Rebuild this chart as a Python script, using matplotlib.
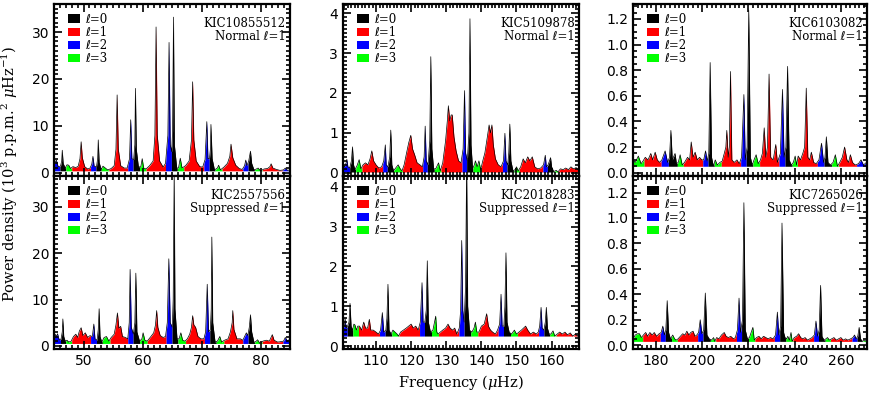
import numpy as np
import matplotlib
matplotlib.use("Agg")
import matplotlib.pyplot as plt
from matplotlib.ticker import MultipleLocator, FormatStrFormatter
from matplotlib.patches import Patch

# ---------------- DATA ----------------
# Panel A : KIC10855512, normal l=1
a_freq = [45.0, 45.2, 45.4, 45.7, 46.1, 46.3, 46.4, 46.55, 46.9,
          47.2, 47.5, 47.8,
          48.2, 48.7, 49.1, 49.4, 49.6, 49.8, 50.2, 50.7, 51.1,
          51.4, 51.6, 51.8, 52.2, 52.4, 52.5, 52.65, 53.0,
          53.3, 53.6, 54.1,
          54.7, 55.2, 55.5, 55.7, 55.9, 56.3, 56.9, 57.4,
          57.8, 58.0, 58.2, 58.5, 58.7, 58.8, 58.95, 59.3,
          59.7, 59.95, 60.2, 60.6,
          61.2, 61.8, 62.1, 62.3, 62.5, 62.9, 63.5,
          63.9, 64.3, 64.5, 64.7, 64.95, 65.1, 65.25, 65.4, 65.8,
          66.1, 66.4, 66.7,
          67.3, 67.9, 68.3, 68.5, 68.7, 69.1, 69.7, 70.2,
          70.6, 70.9, 71.1, 71.35, 71.5, 71.6, 71.8, 72.2,
          72.7, 72.9, 73.2,
          73.8, 74.4, 74.8, 75.0, 75.3, 75.8, 76.4, 76.9,
          77.3, 77.5, 77.7, 78.0, 78.3, 78.5, 78.9,
          79.3, 79.6, 80.0,
          80.6, 81.2, 81.6, 81.8, 82.1, 82.7, 83.3,
          83.9, 84.2, 84.6, 85.0]
a_power = [1.8, 2.2, 2.7, 1.3, 1.4, 2.5, 4.8, 2.0, 1.0,
           1.7, 1.6, 0.9,
           1.3, 1.1, 1.4, 3.0, 6.6, 3.2, 1.3, 0.8, 1.0,
           1.8, 3.5, 1.4, 1.3, 3.0, 7.0, 2.2, 0.7,
           1.4, 1.1, 0.6,
           0.9, 1.5, 5.0, 16.6, 5.0, 1.5, 1.0, 1.0,
           3.0, 11.3, 3.0, 2.8, 6.0, 18.0, 5.0, 1.3,
           1.2, 3.0, 1.0, 0.8,
           1.5, 2.5, 8.0, 31.1, 8.0, 2.5, 1.2,
           2.0, 8.0, 27.8, 6.0, 4.5, 9.0, 33.2, 6.0, 1.0,
           1.0, 3.1, 1.0,
           1.5, 2.5, 7.0, 19.4, 7.0, 2.5, 1.3, 1.2,
           2.8, 10.9, 3.0, 3.0, 5.0, 10.3, 3.0, 0.6,
           1.0, 1.6, 0.6,
           1.2, 2.0, 3.5, 6.1, 3.2, 1.6, 0.9, 0.7,
           1.5, 2.7, 1.5, 2.5, 4.6, 2.0, 0.6,
           0.8, 1.0, 0.4,
           0.8, 0.9, 1.3, 1.9, 1.0, 0.7, 0.5,
           0.6, 1.0, 0.5, 0.6]
a_bounds = [45.0, 46.0, 47.0, 48.0, 51.2, 52.1, 53.0, 54.3, 57.5, 58.4, 59.5,
            60.6, 63.9, 64.9, 65.9, 67.0, 70.4, 71.3, 72.3, 73.5, 77.0, 77.9,
            79.0, 80.3, 83.7, 85.0]
a_degrees = [2, 0, 3, 1, 2, 0, 3, 1, 2, 0, 3, 1, 2, 0, 3, 1, 2, 0, 3, 1, 2, 0, 3, 1, 2]

# Panel B : KIC2557556, suppressed l=1
b_freq = [45.0, 45.2, 45.4, 45.6, 45.9, 46.2, 46.4, 46.5, 46.65, 46.9,
          47.2, 47.5, 47.9,
          48.3, 48.7, 49.0, 49.3, 49.6, 49.9, 50.3, 50.7, 51.1,
          51.5, 51.75, 51.95, 52.3, 52.5, 52.65, 52.8, 53.1,
          53.5, 53.9, 54.3,
          54.7, 55.2, 55.5, 55.75, 56.0, 56.3, 56.6, 57.1, 57.5,
          57.75, 57.9, 58.1, 58.45, 58.7, 58.87, 59.05, 59.5,
          59.9, 60.1, 60.4, 60.8,
          61.3, 61.9, 62.2, 62.4, 62.6, 63.0, 63.5, 63.9,
          64.2, 64.46, 64.7, 65.05, 65.2, 65.37, 65.5, 65.85,
          66.2, 66.5, 66.8, 67.2,
          67.6, 68.0, 68.3, 68.5, 68.7, 69.0, 69.4, 69.9, 70.4,
          70.7, 70.97, 71.2, 71.5, 71.65, 71.75, 71.9, 72.3,
          72.7, 73.1, 73.4,
          73.9, 74.5, 74.9, 75.2, 75.3, 75.5, 76.0, 76.6, 77.0,
          77.3, 77.6, 77.85, 78.1, 78.3, 78.5, 78.9,
          79.3, 79.5, 79.9,
          80.4, 81.0, 81.5, 82.0, 82.3, 82.9, 83.5,
          83.9, 84.2, 84.6, 85.0]
b_power = [1.5, 2.5, 2.0, 2.6, 1.2, 1.5, 3.0, 5.8, 2.0, 1.0,
           1.2, 0.8, 1.0,
           2.0, 2.5, 1.8, 3.2, 3.9, 2.2, 2.8, 1.8, 2.2,
           2.0, 4.7, 1.5, 1.2, 3.5, 8.0, 2.0, 0.8,
           1.8, 2.0, 1.0,
           1.8, 2.5, 4.5, 7.1, 3.8, 4.2, 2.0, 1.8, 1.5,
           5.0, 16.5, 4.0, 2.5, 5.0, 15.7, 3.0, 1.0,
           1.5, 2.8, 1.2, 1.0,
           1.8, 2.8, 4.5, 7.6, 4.0, 2.2, 1.8, 2.0,
           5.0, 18.8, 5.0, 4.0, 10.0, 38.0, 8.0, 1.5,
           1.5, 2.8, 1.2, 1.0,
           1.5, 2.5, 4.0, 6.5, 4.5, 4.0, 2.0, 1.5, 1.5,
           3.0, 13.3, 3.0, 3.5, 8.0, 23.5, 5.0, 0.8,
           1.0, 2.0, 0.8,
           1.2, 1.5, 3.0, 5.0, 7.6, 3.5, 1.5, 1.5, 1.2,
           2.0, 2.8, 2.2, 4.0, 6.7, 3.0, 0.7,
           1.0, 1.3, 0.5,
           1.0, 1.2, 1.0, 2.4, 1.2, 0.8, 0.9,
           1.0, 1.8, 1.0, 1.5]
b_bounds = [45.0, 46.1, 47.0, 48.0, 51.2, 52.2, 53.2, 54.5, 57.5, 58.4, 59.5,
            60.8, 64.0, 65.0, 66.0, 67.3, 70.5, 71.4, 72.5, 73.8, 77.0, 77.9,
            79.0, 80.3, 83.8, 85.0]
b_degrees = [2, 0, 3, 1, 2, 0, 3, 1, 2, 0, 3, 1, 2, 0, 3, 1, 2, 0, 3, 1, 2, 0, 3, 1, 2]

# Panel C : KIC5109878, normal l=1
c_freq = [100.6, 101.0, 101.5, 101.7, 102.0, 102.5, 103.0, 103.3, 103.6, 104.0,
          104.6, 105.2, 105.7,
          106.3, 107.0, 107.7, 108.3, 108.8, 109.3, 110.0, 110.8, 111.6,
          112.2, 112.65, 112.9, 113.4, 113.9, 114.2, 114.5, 115.0,
          115.6, 116.3, 116.9, 117.4,
          118.0, 118.7, 119.3, 119.9, 120.4, 121.0, 121.7, 122.5, 123.2,
          123.7, 124.0, 124.3, 124.8, 125.3, 125.6, 125.9, 126.4,
          127.0, 127.8, 128.3,
          129.0, 129.8, 130.3, 130.6, 131.0, 131.4, 131.7, 132.2, 132.8, 133.5, 134.2,
          134.8, 135.2, 135.5, 136.0, 136.45, 136.75, 137.05, 137.5,
          138.0, 138.3, 138.8, 139.3, 139.8,
          140.4, 141.0, 141.7, 142.2, 142.6, 143.0, 143.4, 144.0, 144.8, 145.6,
          146.3, 146.7, 147.0, 147.5, 147.8, 148.1, 148.4, 149.0,
          149.6, 150.0, 150.5,
          151.2, 151.9, 152.5, 153.2, 153.8, 154.5, 155.2, 156.0, 156.9,
          157.7, 158.2, 158.5, 159.0, 159.4, 159.7, 160.0, 160.6,
          161.0, 161.4, 161.8,
          162.5, 163.3, 164.0, 164.8, 165.5, 166.2, 167.0, 167.8]
c_power = [0.2, 0.15, 0.25, 0.34, 0.15, 0.12, 0.3, 0.65, 0.2, 0.08,
           0.18, 0.33, 0.1,
           0.2, 0.25, 0.2, 0.35, 0.55, 0.3, 0.2, 0.12, 0.15,
           0.3, 0.70, 0.2, 0.15, 0.4, 1.07, 0.2, 0.05,
           0.12, 0.2, 0.1, 0.05,
           0.2, 0.5, 0.75, 0.94, 0.6, 0.45, 0.25, 0.2, 0.15,
           0.4, 1.17, 0.3, 0.2, 0.8, 2.91, 0.6, 0.1,
           0.1, 0.25, 0.05,
           0.25, 0.8, 1.3, 1.68, 1.3, 1.45, 1.45, 0.9, 0.55, 0.3, 0.25,
           0.6, 2.06, 0.5, 0.3, 1.0, 3.86, 0.7, 0.1,
           0.2, 0.3, 0.15, 0.3, 0.08,
           0.3, 0.5, 0.9, 1.2, 1.0, 1.2, 0.7, 0.35, 0.2, 0.15,
           0.3, 0.99, 0.3, 0.2, 0.5, 1.22, 0.3, 0.05,
           0.08, 0.15, 0.05,
           0.15, 0.35, 0.25, 0.4, 0.3, 0.4, 0.15, 0.1, 0.12,
           0.2, 0.44, 0.15, 0.2, 0.3, 0.38, 0.15, 0.03,
           0.05, 0.06, 0.02,
           0.1, 0.08, 0.12, 0.08, 0.15, 0.1, 0.13, 0.05]
c_bounds = [100.6, 102.5, 104.2, 106.0, 111.9, 113.2, 115.0, 117.5, 123.3, 124.6,
            126.6, 128.5, 134.5, 135.8, 137.6, 140.0, 146.0, 147.3, 149.3, 150.8,
            157.5, 158.8, 160.5, 162.0, 167.8]
c_degrees = [2, 0, 3, 1, 2, 0, 3, 1, 2, 0, 3, 1, 2, 0, 3, 1, 2, 0, 3, 1, 2, 0, 3, 1]

# Panel D : KIC2018283, suppressed l=1
d_freq = [100.6, 101.0, 101.2, 101.5, 101.9, 102.3, 102.6, 102.9, 103.3,
          103.7, 104.0, 104.4, 104.8,
          105.3, 105.9, 106.5, 107.0, 107.6, 108.1, 108.5, 109.2, 110.0, 110.7,
          111.3, 111.8, 112.2, 112.8, 113.1, 113.4, 113.7, 114.3,
          114.8, 115.4, 116.0, 116.4,
          117.0, 117.8, 118.6, 119.3, 120.0, 120.6, 121.3, 122.0,
          122.6, 123.1, 123.4, 123.9, 124.3, 124.6, 124.9, 125.5,
          126.2, 127.0, 127.3, 127.7,
          128.3, 129.0, 129.8, 130.5, 131.1, 131.8, 132.4, 133.0,
          133.7, 134.1, 134.4, 134.7, 135.1, 135.5, 135.8, 136.1, 136.6,
          137.3, 137.9, 138.3, 138.7,
          139.3, 140.0, 140.8, 141.5, 142.0, 142.6, 143.2, 144.0, 144.6,
          145.2, 145.6, 145.9, 146.4, 146.7, 147.0, 147.3, 147.9,
          148.6, 149.4, 150.0,
          150.7, 151.4, 152.0, 152.6, 153.2, 154.0, 154.8, 155.6, 156.2,
          156.6, 157.0, 157.3, 157.8, 158.2, 158.5, 158.8, 159.3,
          159.8, 160.4, 160.9,
          161.6, 162.3, 163.0, 163.8, 164.5, 165.3, 166.0, 166.8, 167.4, 167.8]
d_power = [0.45, 0.5, 0.69, 0.45, 0.5, 0.6, 1.07, 0.5, 0.4,
           0.55, 0.53, 0.4, 0.5,
           0.5, 0.4, 0.6, 0.45, 0.45, 0.67, 0.4, 0.4, 0.35, 0.3,
           0.4, 0.84, 0.35, 0.4, 0.7, 1.55, 0.4, 0.3,
           0.4, 0.35, 0.3, 0.25,
           0.35, 0.4, 0.45, 0.5, 0.55, 0.45, 0.5, 0.4,
           0.6, 1.59, 0.6, 0.6, 0.9, 2.14, 0.6, 0.35,
           0.4, 0.75, 0.35, 0.3,
           0.35, 0.4, 0.45, 0.55, 0.45, 0.4, 0.45, 0.3,
           0.45, 0.9, 2.65, 0.9, 0.6, 1.5, 4.6, 1.0, 0.4,
           0.35, 0.45, 0.6, 0.35,
           0.35, 0.5, 0.55, 0.81, 0.5, 0.4, 0.35, 0.3, 0.4,
           0.55, 1.30, 0.5, 0.5, 1.0, 2.34, 0.6, 0.35,
           0.3, 0.4, 0.3,
           0.35, 0.4, 0.45, 0.5, 0.4, 0.3, 0.35, 0.3, 0.35,
           0.5, 0.97, 0.45, 0.4, 0.6, 0.97, 0.45, 0.3,
           0.3, 0.38, 0.25,
           0.3, 0.35, 0.3, 0.35, 0.28, 0.33, 0.25, 0.3, 0.25, 0.3]
d_bounds = [100.6, 101.8, 103.4, 105.0, 111.0, 112.6, 114.5, 116.5, 122.4, 123.8,
            125.8, 127.8, 133.6, 135.1, 137.0, 139.0, 144.8, 146.3, 148.3, 150.3,
            156.3, 157.8, 159.5, 161.3, 167.3, 167.8]
d_degrees = [2, 0, 3, 1, 2, 0, 3, 1, 2, 0, 3, 1, 2, 0, 3, 1, 2, 0, 3, 1, 2, 0, 3, 1, 2]

# Panel E : KIC6103082, normal l=1
e_freq = [170.0, 171.0, 172.3, 173.5, 174.3,
          175.3, 176.5, 177.7, 178.5, 179.6, 180.5, 181.5,
          182.5, 183.9, 185.0, 185.8, 186.4, 187.0, 188.2, 188.8,
          189.6, 190.4, 191.3,
          192.3, 193.6, 194.5, 195.2, 196.0, 196.9, 197.8, 198.8, 199.8,
          200.6, 201.4, 202.1, 202.8, 203.4, 204.0, 204.8,
          205.6, 206.5, 207.6,
          208.6, 209.5, 210.2, 210.6, 211.2, 211.7, 212.2, 212.8, 213.8, 215.0, 216.0,
          217.0, 218.0, 218.6, 219.4, 220.1, 220.8, 221.6,
          222.4, 223.3, 224.2,
          225.2, 226.0, 226.8, 227.5, 228.2, 228.9, 229.6, 230.7, 231.8, 232.5,
          233.8, 234.7, 235.4, 236.2, 236.9, 237.6, 238.5,
          239.4, 240.2, 240.8,
          241.5, 242.5, 243.5, 244.3, 245.0, 245.7, 246.5, 247.2, 248.2, 249.3,
          250.5, 251.6, 252.5, 253.1, 253.7, 254.4, 255.5,
          256.6, 257.6, 258.5,
          259.5, 260.6, 261.6, 262.6, 263.3, 264.1, 265.0, 266.2,
          267.6, 268.7, 269.8, 271.0]
e_power = [0.1, 0.08, 0.13, 0.07, 0.09,
           0.12, 0.1, 0.15, 0.1, 0.16, 0.1, 0.08,
           0.1, 0.17, 0.08, 0.12, 0.33, 0.1, 0.15, 0.07,
           0.08, 0.14, 0.06,
           0.08, 0.12, 0.1, 0.24, 0.12, 0.16, 0.1, 0.12, 0.1,
           0.1, 0.17, 0.09, 0.15, 0.86, 0.12, 0.05,
           0.1, 0.06, 0.08,
           0.09, 0.15, 0.2, 0.33, 0.12, 0.2, 0.79, 0.1, 0.08, 0.1, 0.07,
           0.12, 0.61, 0.1, 0.2, 1.27, 0.12, 0.06,
           0.1, 0.14, 0.07,
           0.1, 0.15, 0.35, 0.12, 0.2, 0.77, 0.12, 0.1, 0.22, 0.08,
           0.15, 0.65, 0.12, 0.2, 0.83, 0.1, 0.06,
           0.08, 0.13, 0.06,
           0.13, 0.1, 0.15, 0.2, 0.66, 0.12, 0.1, 0.16, 0.08, 0.07,
           0.1, 0.23, 0.08, 0.12, 0.28, 0.08, 0.06,
           0.08, 0.14, 0.05,
           0.08, 0.12, 0.2, 0.1, 0.08, 0.14, 0.08, 0.06,
           0.07, 0.1, 0.06, 0.08]
e_bounds = [170.0, 174.8, 182.2, 185.3, 189.2, 191.8, 200.2, 202.5, 205.2, 208.2,
            216.6, 219.0, 221.9, 224.8, 233.2, 235.8, 238.9, 241.2, 249.8, 252.7,
            256.0, 259.0, 266.8, 271.0]
e_degrees = [3, 1, 2, 0, 3, 1, 2, 0, 3, 1, 2, 0, 3, 1, 2, 0, 3, 1, 2, 0, 3, 1, 2]

# Panel F : KIC7265026, suppressed l=1
f_freq = [170.0, 171.0, 171.9, 172.8, 173.6,
          174.5, 175.5, 176.3, 177.3, 178.3, 179.2, 180.2, 181.3,
          182.2, 182.9, 183.6, 184.2, 184.8, 185.4, 186.2,
          187.2, 188.0, 188.7,
          189.5, 190.5, 191.5, 192.5, 193.3, 194.2, 195.0, 196.0, 196.8, 197.6,
          198.4, 199.1, 199.8, 200.6, 201.3, 202.0, 203.0,
          204.0, 204.9, 205.4,
          206.2, 207.2, 208.3, 209.5, 210.3, 211.3, 212.3, 213.5, 214.3,
          215.2, 215.9, 216.5, 217.4, 218.0, 218.6, 219.5,
          220.4, 221.9, 222.5,
          223.5, 224.5, 225.5, 226.5, 227.5, 228.5, 229.5, 230.6,
          231.7, 232.5, 233.1, 233.9, 234.5, 235.2, 235.8,
          236.5, 237.0, 237.7, 238.4, 238.9,
          239.8, 240.8, 241.7, 242.6, 243.5, 244.5, 245.5, 246.5, 247.5,
          248.5, 249.2, 249.9, 250.6, 251.2, 251.8, 252.7,
          253.5, 254.2, 255.0,
          256.0, 257.0, 258.0, 259.0, 260.0, 261.0, 262.0, 263.0, 264.2,
          265.2, 265.9, 266.6, 267.3, 267.9, 268.5, 269.3, 270.2, 271.0]
f_power = [0.05, 0.08, 0.09, 0.09, 0.06,
           0.08, 0.1, 0.07, 0.1, 0.08, 0.1, 0.07, 0.09,
           0.1, 0.15, 0.08, 0.12, 0.35, 0.1, 0.05,
           0.08, 0.05, 0.04,
           0.05, 0.07, 0.09, 0.08, 0.11, 0.08, 0.1, 0.11, 0.07, 0.08,
           0.1, 0.2, 0.09, 0.12, 0.41, 0.08, 0.05,
           0.04, 0.06, 0.03,
           0.06, 0.05, 0.08, 0.1, 0.07, 0.06, 0.07, 0.05, 0.06,
           0.12, 0.37, 0.1, 0.2, 1.12, 0.12, 0.05,
           0.06, 0.14, 0.04,
           0.06, 0.07, 0.05, 0.07, 0.06, 0.05, 0.06, 0.05,
           0.08, 0.26, 0.08, 0.15, 0.96, 0.1, 0.06,
           0.05, 0.07, 0.04, 0.1, 0.03,
           0.06, 0.07, 0.09, 0.06, 0.05, 0.06, 0.04, 0.05, 0.06,
           0.08, 0.19, 0.07, 0.12, 0.47, 0.07, 0.04,
           0.05, 0.06, 0.04,
           0.05, 0.06, 0.04, 0.05, 0.06, 0.04, 0.05, 0.04, 0.05,
           0.06, 0.08, 0.05, 0.07, 0.14, 0.05, 0.03, 0.04, 0.03]
f_bounds = [170.0, 174.2, 181.8, 184.0, 186.7, 189.2, 198.0, 200.3, 203.5, 205.8,
            214.8, 217.0, 220.0, 222.8, 231.2, 233.5, 236.2, 239.3, 248.2, 250.3,
            253.2, 255.5, 264.8, 267.0, 269.0, 271.0]
f_degrees = [3, 1, 2, 0, 3, 1, 2, 0, 3, 1, 2, 0, 3, 1, 2, 0, 3, 1, 2, 0, 3, 1, 2, 0, 3]

star_ids = ["KIC10855512", "KIC2557556", "KIC5109878", "KIC2018283", "KIC6103082", "KIC7265026"]
star_types = ["Normal", "Suppressed", "Normal", "Suppressed", "Normal", "Suppressed"]
degree_labels = [0, 1, 2, 3]

# ---------------- STYLE ----------------
degree_colors = {0: "#000000", 1: "#ff0000", 2: "#0000ff", 3: "#00ff00"}
plt.rcParams["mathtext.fontset"] = "dejavuserif"
SERIF = ["DejaVu Serif", "DejaVu Sans"]
SANS = "DejaVu Sans"

W, H = 872, 396
fig = plt.figure(figsize=(W / 100, H / 100), dpi=100)

col_lr = [(54, 290), (343, 579), (633, 867)]
row_tb = [(4, 176), (176, 349)]

panels = [
    (a_freq, a_power, a_bounds, a_degrees),
    (b_freq, b_power, b_bounds, b_degrees),
    (c_freq, c_power, c_bounds, c_degrees),
    (d_freq, d_power, d_bounds, d_degrees),
    (e_freq, e_power, e_bounds, e_degrees),
    (f_freq, f_power, f_bounds, f_degrees),
]
xlims = [(45.0, 85.0), (100.6, 167.8), (170.0, 271.3)]
ylims = [[(-0.7, 36.0), (-0.7, 36.7)], [(-0.08, 4.23), (-0.075, 4.27)],
         [(-0.026, 1.317), (-0.03, 1.33)]]
xmaj = [10, 10, 20]
xmin_ = [1, 1, 2]
ymaj = [10, 1, 0.2]
ymin_ = [1, 0.1, 0.05]

for k, (fr, pw, bounds, degs) in enumerate(panels):
    col, row = k // 2, k % 2
    l, r = col_lr[col]
    t, b = row_tb[row]
    ax = fig.add_axes([l / W, 1 - b / H, (r - l) / W, (b - t) / H])
    fr = np.asarray(fr, float)
    pw = np.asarray(pw, float)
    base = pw.min()
    for i, dg in enumerate(degs):
        x0, x1 = bounds[i], bounds[i + 1]
        inner = fr[(fr > x0) & (fr < x1)]
        xs = np.concatenate([[x0], inner, [x1]])
        ys = np.interp(xs, fr, pw)
        ax.fill_between(xs, base, ys, color=degree_colors[dg], lw=0)
    ax.plot(fr, pw, color="black", lw=0.5)
    ax.set_xlim(*xlims[col])
    ax.set_ylim(*ylims[col][row])
    ax.xaxis.set_major_locator(MultipleLocator(xmaj[col]))
    ax.xaxis.set_minor_locator(MultipleLocator(xmin_[col]))
    ax.yaxis.set_major_locator(MultipleLocator(ymaj[col]))
    ax.yaxis.set_minor_locator(MultipleLocator(ymin_[col]))
    if col == 2:
        ax.yaxis.set_major_formatter(FormatStrFormatter("%.1f"))
    else:
        ax.yaxis.set_major_formatter(FormatStrFormatter("%d"))
    ax.tick_params(which="both", direction="in", top=True, right=True, width=1.2)
    ax.tick_params(which="major", length=6, labelsize=10)
    ax.tick_params(which="minor", length=3)
    for lab in ax.get_xticklabels() + ax.get_yticklabels():
        lab.set_family(SANS)
    if row == 0:
        ax.tick_params(labelbottom=False)
    for sp in ax.spines.values():
        sp.set_linewidth(1.6)
    handles = [Patch(facecolor=degree_colors[dg], edgecolor="none") for dg in degree_labels]
    labels = ["\u2113=%d" % dg for dg in degree_labels]
    ax.legend(handles, labels, loc="upper left", bbox_to_anchor=(0.06, 0.95),
              frameon=False, prop={"family": SERIF, "size": 8.5},
              handlelength=1.0, handleheight=0.7, handletextpad=0.45,
              labelspacing=0.02, borderpad=0.0, borderaxespad=0.0)
    ax.text(0.982, 0.925, star_ids[k] + "\n" + star_types[k] + " \u2113=1",
            transform=ax.transAxes, ha="right", va="top", multialignment="right",
            fontsize=8.5, family=SERIF, linespacing=0.98)

fig.text(10 / W, 1 - 174 / H,
         r"Power density (10$^3$ p.p.m.$^2$ $\mu$Hz$^{-1}$)",
         rotation=90, ha="center", va="center", fontsize=10.5, family="DejaVu Serif")
fig.text(461 / W, 1 - 383 / H, r"Frequency ($\mu$Hz)", ha="center", va="center",
         fontsize=10.5, family="DejaVu Serif")

fig.savefig("out.png", dpi=100)
